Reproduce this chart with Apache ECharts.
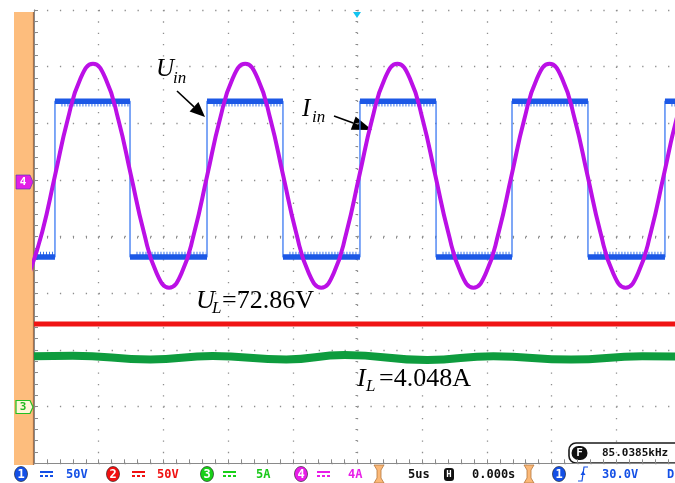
<!DOCTYPE html>
<html>
<head>
<meta charset="utf-8">
<title>Scope capture</title>
<script src="https://cdn.jsdelivr.net/npm/echarts@6/dist/echarts.min.js"></script>
<style>
  html, body { margin: 0; padding: 0; background: #fff; }
  #chart { width: 675px; height: 483px; }
</style>
</head>
<body>
<div id="chart"></div>
<script>
// time base: 5 us/div, 10 divisions
const timeMin = 0;
const timeMax = 50;

// CH1 (blue) input voltage, square wave: edge times (us) and levels (V)
const uinEdges = [1.62, 7.42, 13.37, 19.24, 25.19, 31.07, 36.94, 42.81, 48.76];
const uinHigh = 69.5;
const uinLow = -68;
// switching spikes hang about this far into the wave from each level (V)
const uinSpike = 3.2;

// CH4 (magenta) input current (A)
const iinTime = [-0.34, 0.64, 1.62, 2.60, 3.58, 4.56, 5.54, 6.52, 7.50, 8.48, 9.46, 10.44,
  11.42, 12.40, 13.38, 14.36, 15.34, 16.32, 17.30, 18.28, 19.26, 20.24, 21.22, 22.20,
  23.18, 24.16, 25.14, 26.12, 27.10, 28.08, 29.06, 30.04, 31.02, 32.00, 32.98, 33.96,
  34.94, 35.92, 36.90, 37.88, 38.86, 39.84, 40.82, 41.80, 42.78, 43.76, 44.74, 45.72,
  46.70, 47.68, 48.66, 49.64, 50.62];
const iinAmps = [-6.54, -3.65, 0.3, 4.25, 7.14, 8.2, 7.14, 4.25, 0.3, -3.65, -6.54, -7.6,
  -6.54, -3.65, 0.3, 4.25, 7.14, 8.2, 7.14, 4.25, 0.3, -3.65, -6.54, -7.6,
  -6.54, -3.65, 0.3, 4.25, 7.14, 8.2, 7.14, 4.25, 0.3, -3.65, -6.54, -7.6,
  -6.54, -3.65, 0.3, 4.25, 7.14, 8.2, 7.14, 4.25, 0.3, -3.65, -6.54, -7.6,
  -6.54, -3.65, 0.3, 4.25, 7.14];

// CH2 (red) load voltage (V)
const ulTime = [0, 50];
const ulVolts = [72.86, 72.86];

// CH3 (green) load current (A)
const ilTime = [0, 3, 9, 13.8, 19.5, 24, 30.4, 35.5, 41.5, 47, 50];
const ilAmps = [4.45, 4.5, 4.17, 4.47, 4.17, 4.56, 4.12, 4.45, 4.15, 4.45, 4.4];

// square wave with its edges, the thick flat parts and the spike fringe
const uinLine = [[timeMin, uinLow]];
const uinFlat = [[timeMin, uinLow]];
const uinFringe = [[timeMin, uinLow + uinSpike]];
let level = uinLow;
uinEdges.forEach(t => {
  const inward = level === uinLow ? uinSpike : -uinSpike;
  uinLine.push([t, level]);
  uinFlat.push([t, level], [t, '-']);
  uinFringe.push([t - 0.1, level + inward], [t, '-']);
  level = level === uinLow ? uinHigh : uinLow;
  uinLine.push([t, level]);
  uinFlat.push([t, level]);
  uinFringe.push([t + 0.5, level + (level === uinLow ? uinSpike : -uinSpike)]);
});
uinLine.push([timeMax, level]);
uinFlat.push([timeMax, level]);
uinFringe.push([timeMax, level + (level === uinLow ? uinSpike : -uinSpike)]);

const pairs = (xs, ys) => xs.map((x, i) => [x, ys[i]]);

const serif = '"Liberation Serif", "DejaVu Serif", serif';
const mono = '"DejaVu Sans Mono", "Liberation Mono", monospace';
const gridGray = '#8e8e8e';
const tickGray = '#8a8a8a';

function arrow(x0, y0, x1, y1, head, half) {
  const len = Math.hypot(x1 - x0, y1 - y0);
  const ux = (x1 - x0) / len, uy = (y1 - y0) / len;
  const bx = x1 - ux * head, by = y1 - uy * head;
  return [
    { type: 'line', shape: { x1: x0, y1: y0, x2: bx, y2: by }, style: { stroke: '#000', lineWidth: 1.6 } },
    { type: 'polygon', shape: { points: [[x1, y1], [bx - uy * half, by + ux * half], [bx + uy * half, by - ux * half]] }, style: { fill: '#000' } }
  ];
}

function txt(x, y, text, font, color, align) {
  return { type: 'text', x: x, y: y, style: { text: text, font: font, fill: color, align: align || 'left', verticalAlign: 'middle' } };
}

function chanBadge(cx, n, color) {
  return [
    { type: 'ellipse', shape: { cx: cx, cy: 474, rx: 6.5, ry: 7.5 }, style: { fill: color, stroke: '#1a1a1a', lineWidth: 0.6 } },
    txt(cx, 474.5, String(n), 'bold 12px ' + mono, '#fff', 'center')
  ];
}

function dcSymbol(x, color) {
  return [
    { type: 'line', shape: { x1: x, y1: 472, x2: x + 13, y2: 472 }, style: { stroke: color, lineWidth: 2 } },
    { type: 'line', shape: { x1: x, y1: 476, x2: x + 13, y2: 476 }, style: { stroke: color, lineWidth: 2, lineDash: [3, 2] } }
  ];
}

function bracket(x) {
  return { type: 'polygon', shape: { points: [[x, 465], [x + 10, 465], [x + 7, 470], [x + 7, 478], [x + 10, 483], [x, 483], [x + 3, 478], [x + 3, 470]] },
    style: { fill: '#fbb877', stroke: '#b4763e', lineWidth: 0.8 } };
}

const graphics = [
  // left strip and channel markers
  { type: 'rect', shape: { x: 14, y: 12, width: 20, height: 453 }, style: { fill: '#fdbd7d' } },
  { type: 'line', shape: { x1: 33.5, y1: 12, x2: 33.5, y2: 465 }, style: { stroke: '#a6714a', lineWidth: 1.2 } },
  { type: 'polygon', shape: { points: [[16, 175], [30, 175], [33, 182], [30, 189], [16, 189]] }, style: { fill: '#e21ee6', stroke: '#3a3ab0', lineWidth: 0.6 } },
  txt(23, 182.5, '4', 'bold 11px ' + mono, '#fff', 'center'),
  { type: 'polygon', shape: { points: [[16, 400.5], [30, 400.5], [33, 407], [30, 413.5], [16, 413.5]] }, style: { fill: '#fff6d8', stroke: '#22c022', lineWidth: 1.2 } },
  txt(23, 407.5, '3', 'bold 11px ' + mono, '#22b822', 'center'),
  // trigger position
  { type: 'polygon', shape: { points: [[353, 12], [361, 12], [357, 18]] }, style: { fill: '#12c4f0' } },

  // annotations
  txt(156, 69.5, 'U', 'italic 25px ' + serif, '#000'),
  txt(173, 79, 'in', 'italic 17px ' + serif, '#000'),
  ...arrow(177, 91, 205, 117, 15, 6.5),
  txt(302, 109, 'I', 'italic 25px ' + serif, '#000'),
  txt(312, 118, 'in', 'italic 17px ' + serif, '#000'),
  ...arrow(334, 116, 372, 130, 20, 7),
  txt(196, 301, 'U', 'italic 26px ' + serif, '#000'),
  txt(212, 309, 'L', 'italic 17px ' + serif, '#000'),
  txt(222, 301, '=72.86V', '26px ' + serif, '#000'),
  txt(357, 379, 'I', 'italic 26px ' + serif, '#000'),
  txt(366, 387, 'L', 'italic 17px ' + serif, '#000'),
  txt(379, 379, '=4.048A', '26px ' + serif, '#000'),

  // frequency readout
  { type: 'rect', shape: { x: 569, y: 443, width: 130, height: 20, r: 7 }, style: { fill: '#fff', stroke: '#1a1a1a', lineWidth: 1.6 } },
  { type: 'rect', shape: { x: 571.5, y: 446, width: 16, height: 14, r: 7 }, style: { fill: '#111' } },
  txt(579.5, 453.5, 'F', 'bold 11px ' + mono, '#fff', 'center'),
  txt(602, 453.5, '85.0385kHz', 'bold 11px ' + mono, '#111'),

  // status bar
  { type: 'rect', shape: { x: 0, y: 465, width: 675, height: 18 }, style: { fill: '#fff' } },
  ...chanBadge(21, 1, '#1450e6'),
  ...dcSymbol(40, '#1450e6'),
  txt(66, 474.5, '50V', 'bold 12px ' + mono, '#1450e6'),
  ...chanBadge(113, 2, '#f01010'),
  ...dcSymbol(132, '#f01010'),
  txt(157, 474.5, '50V', 'bold 12px ' + mono, '#f01010'),
  ...chanBadge(207, 3, '#18d018'),
  ...dcSymbol(223, '#18d018'),
  txt(256, 474.5, '5A', 'bold 12px ' + mono, '#18c818'),
  ...chanBadge(301, 4, '#e81ee8'),
  ...dcSymbol(317, '#e81ee8'),
  txt(348, 474.5, '4A', 'bold 12px ' + mono, '#e81ee8'),
  bracket(374),
  txt(408, 474.5, '5us', 'bold 12px ' + mono, '#111'),
  { type: 'rect', shape: { x: 444, y: 468, width: 10, height: 13, r: 3 }, style: { fill: '#111' } },
  txt(449, 474.5, 'H', 'bold 9px ' + mono, '#fff', 'center'),
  txt(472, 474.5, '0.000s', 'bold 12px ' + mono, '#111'),
  bracket(524),
  ...chanBadge(559, 1, '#1450e6'),
  { type: 'polyline', shape: { points: [[578, 481], [582, 481], [584, 467], [588, 467]] }, style: { stroke: '#1450e6', lineWidth: 1.2 } },
  { type: 'polygon', shape: { points: [[580.5, 475], [585.5, 475], [583, 471]] }, style: { fill: '#1450e6' } },
  txt(602, 474.5, '30.0V', 'bold 12px ' + mono, '#1450e6'),
  txt(667, 474.5, 'DC', 'bold 12px ' + mono, '#1450e6')
];

const hiddenY = (min, max) => ({ type: 'value', min: min, max: max, show: false });

const chart = echarts.init(document.getElementById('chart'), null, { renderer: 'canvas' });
chart.setOption({
  animation: false,
  backgroundColor: '#fff',
  grid: { left: 34, top: 10, width: 647, height: 453.3, outerBoundsMode: 'none', containLabel: false },
  xAxis: [
    {
      type: 'value', min: timeMin, max: timeMax, interval: 5,
      axisLine: { show: true, onZero: false, lineStyle: { color: tickGray, width: 1 } },
      axisTick: { show: true, inside: true, length: 4, lineStyle: { color: tickGray } },
      minorTick: { show: true, splitNumber: 5, length: 4, lineStyle: { color: tickGray } },
      axisLabel: { show: false },
      splitLine: { show: true, lineStyle: { color: gridGray, width: 1.3, type: [1.3, 10.03] } }
    },
    {
      // centre graticule ticks (horizontal)
      type: 'value', min: timeMin, max: timeMax, interval: 5, position: 'bottom', offset: -226.7,
      axisLine: { show: false, onZero: false },
      axisTick: { show: true, length: 2, lineStyle: { color: tickGray } },
      minorTick: { show: true, splitNumber: 5, length: 2, lineStyle: { color: tickGray } },
      axisLabel: { show: false }, splitLine: { show: false }
    }
  ],
  yAxis: [
    {
      // CH1, 50 V/div, graticule
      type: 'value', min: -250, max: 150, interval: 50,
      axisLine: { show: true, onZero: false, lineStyle: { color: tickGray, width: 1 } },
      axisTick: { show: true, inside: true, length: 4, lineStyle: { color: tickGray } },
      minorTick: { show: true, splitNumber: 5, length: 4, lineStyle: { color: tickGray } },
      axisLabel: { show: false },
      splitLine: { show: true, lineStyle: { color: gridGray, width: 1.3, type: [1.3, 11.64] } }
    },
    hiddenY(-20, 12),   // CH4, 4 A/div
    hiddenY(-50, 350),  // CH2, 50 V/div
    hiddenY(-5, 35),    // CH3, 5 A/div
    {
      // centre graticule ticks (vertical)
      type: 'value', min: -250, max: 150, interval: 50, position: 'left', offset: -323.5,
      axisLine: { show: false, onZero: false },
      axisTick: { show: true, length: 2, lineStyle: { color: tickGray } },
      minorTick: { show: true, splitNumber: 5, length: 2, lineStyle: { color: tickGray } },
      axisLabel: { show: false }, splitLine: { show: false }
    }
  ],
  series: [
    {
      name: 'IL', type: 'line', yAxisIndex: 3, data: pairs(ilTime, ilAmps), smooth: true,
      symbol: 'none', lineStyle: { color: '#0e9c3e', width: 8 }
    },
    {
      name: 'UL', type: 'line', yAxisIndex: 2, data: pairs(ulTime, ulVolts),
      symbol: 'none', lineStyle: { color: '#f01414', width: 5 }
    },
    {
      name: 'Uin', type: 'line', yAxisIndex: 0, data: uinLine,
      symbol: 'none', lineStyle: { color: '#3a78f2', width: 1.3 }
    },
    {
      name: 'Uin spikes', type: 'line', yAxisIndex: 0, data: uinFringe, connectNulls: false,
      symbol: 'none', lineStyle: { color: '#3a74ea', width: 3.5, type: [1, 2], cap: 'butt' }
    },
    {
      name: 'Uin flat', type: 'line', yAxisIndex: 0, data: uinFlat, connectNulls: false,
      symbol: 'none', lineStyle: { color: '#1c58e6', width: 5.5, cap: 'butt' }
    },
    {
      name: 'Iin', type: 'line', yAxisIndex: 1, data: pairs(iinTime, iinAmps), smooth: true,
      symbol: 'none', lineStyle: { color: '#bb10e6', width: 4 }
    }
  ],
  graphic: { elements: graphics }
});
</script>
</body>
</html>
